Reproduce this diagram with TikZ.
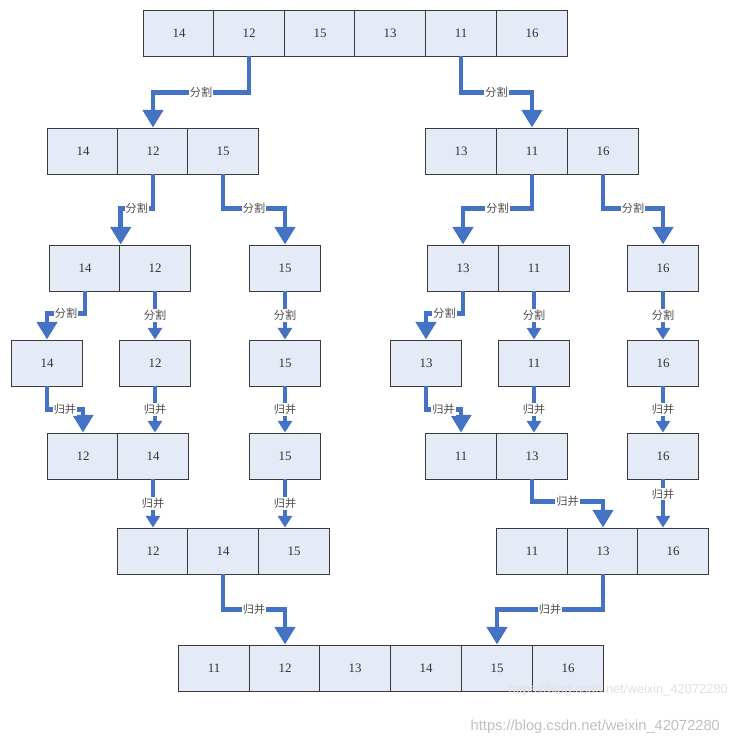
\documentclass[tikz,border=0pt]{standalone}
\usepackage{fontspec}
\setmainfont{Liberation Serif}
\setsansfont{Liberation Sans}
\newfontfamily\cjk{Noto Sans CJK SC}
\usepackage{xcolor}
\usepackage{tikz}
\usetikzlibrary{arrows.meta,calc}
\definecolor{flowblue}{HTML}{4472C4}
\definecolor{cellfill}{HTML}{E4EAF6}
\definecolor{cellline}{HTML}{3A3A3A}

\begin{document}
\begin{tikzpicture}[x=0.03cm,y=-0.03cm,
        cell/.style={rectangle,draw=cellline,fill=cellfill,thick,
          inner sep=0pt,minimum width=2.115cm,minimum height=1.38cm,
          font=\fontsize{11}{12}\selectfont,text=black!80},
        flow/.style={draw=flowblue,line width=3.8pt,
          -{Triangle[length=15pt,width=17pt]}},
        flowthin/.style={draw=flowblue,line width=3.4pt,
          -{Triangle[length=10pt,width=12pt]}},
        lbl/.style={fill=white,inner sep=1pt,text=black!70,
          font=\cjk\fontsize{9.5}{10}\selectfont}]
      \useasboundingbox (0,0) rectangle (732,746);
      % row 1
      \node[cell] (a1) at (179,33) {14};
      \node[cell] (a2) at (249,33) {12};
      \node[cell] (a3) at (320,33) {15};
      \node[cell] (a4) at (390,33) {13};
      \node[cell] (a5) at (461,33) {11};
      \node[cell] (a6) at (532,33) {16};
      % row 2
      \node[cell] (b1) at (83,151) {14};
      \node[cell] (b2) at (153,151) {12};
      \node[cell] (b3) at (223,151) {15};
      \node[cell] (b4) at (461,151) {13};
      \node[cell] (b5) at (532,151) {11};
      \node[cell] (b6) at (603,151) {16};
      % row 3
      \node[cell] (c1) at (85,268) {14};
      \node[cell] (c2) at (155,268) {12};
      \node[cell] (c3) at (285,268) {15};
      \node[cell] (c4) at (463,268) {13};
      \node[cell] (c5) at (534,268) {11};
      \node[cell] (c6) at (663,268) {16};
      % row 4
      \node[cell] (d1) at (47,363) {14};
      \node[cell] (d2) at (155,363) {12};
      \node[cell] (d3) at (285,363) {15};
      \node[cell] (d4) at (426,363) {13};
      \node[cell] (d5) at (534,363) {11};
      \node[cell] (d6) at (663,363) {16};
      % row 5
      \node[cell] (e1) at (83,456) {12};
      \node[cell] (e2) at (153,456) {14};
      \node[cell] (e3) at (285,456) {15};
      \node[cell] (e4) at (461,456) {11};
      \node[cell] (e5) at (532,456) {13};
      \node[cell] (e6) at (663,456) {16};
      % row 6
      \node[cell] (f1) at (153,551) {12};
      \node[cell] (f2) at (223,551) {14};
      \node[cell] (f3) at (294,551) {15};
      \node[cell] (f4) at (532,551) {11};
      \node[cell] (f5) at (603,551) {13};
      \node[cell] (f6) at (673,551) {16};
      % row 7
      \node[cell] (g1) at (214,668) {11};
      \node[cell] (g2) at (285,668) {12};
      \node[cell] (g3) at (355,668) {13};
      \node[cell] (g4) at (426,668) {14};
      \node[cell] (g5) at (497,668) {15};
      \node[cell] (g6) at (568,668) {16};

      % split
      \draw[flow] (a2.south) -- ++(0,36) -| node[lbl,pos=0.25] {分割} (b2.north);
      \draw[flow] (a5.south) -- ++(0,36) -| node[lbl,pos=0.25] {分割} (b5.north);
      \draw[flow] (b2.south) -- ++(0,34) -| node[lbl,pos=0.25] {分割} (c1.north east);
      \draw[flow] (b3.south) -- ++(0,34) -| node[lbl,pos=0.25] {分割} (c3.north);
      \draw[flow] (b5.south) -- ++(0,34) -| node[lbl,pos=0.25] {分割} (c4.north);
      \draw[flow] (b6.south) -- ++(0,34) -| node[lbl,pos=0.25] {分割} (c6.north);
      \draw[flow] (c1.south) -- ++(0,22) -| node[lbl,pos=0.25] {分割} (d1.north);
      \draw[flow] (c4.south) -- ++(0,22) -| node[lbl,pos=0.25] {分割} (d4.north);
      \draw[flowthin] (c2.south) -- node[lbl] {分割} (c2.south |- d2.north);
      \draw[flowthin] (c3.south) -- node[lbl] {分割} (c3.south |- d3.north);
      \draw[flowthin] (c5.south) -- node[lbl] {分割} (c5.south |- d5.north);
      \draw[flowthin] (c6.south) -- node[lbl] {分割} (c6.south |- d6.north);

      % merge
      \draw[flow] (d1.south) -- ++(0,23) -| node[lbl,pos=0.25] {归并} (e1.north);
      \draw[flow] (d4.south) -- ++(0,23) -| node[lbl,pos=0.25] {归并} (e4.north);
      \draw[flowthin] (d2.south) -- node[lbl] {归并} (d2.south |- e2.north);
      \draw[flowthin] (d3.south) -- node[lbl] {归并} (d3.south |- e3.north);
      \draw[flowthin] (d5.south) -- node[lbl] {归并} (d5.south |- e5.north);
      \draw[flowthin] (d6.south) -- node[lbl] {归并} (d6.south |- e6.north);
      \draw[flowthin] (e2.south) -- node[lbl] {归并} (e2.south |- f1.north);
      \draw[flowthin] (e3.south) -- node[lbl] {归并} (e3.south |- f3.north);
      \draw[flow] (e5.south) -- ++(0,22) -| node[lbl,pos=0.25] {归并} (f5.north);
      \draw[flowthin] (e6.south) -- node[lbl,pos=0.3] {归并} (e6.south |- f6.north);
      \draw[flow] (f2.south) -- ++(0,35) -| node[lbl,pos=0.25] {归并} (g2.north);
      \draw[flow] (f5.south) -- ++(0,35) -| node[lbl,pos=0.25] {归并} (g5.north);

      % watermarks
      \node[anchor=east,text=black!12,font=\sffamily\fontsize{11}{12}\selectfont] (wm1) at (732,690) {https://blog.csdn.net/weixin\_42072280};
      \node[anchor=east,text=black!25,font=\sffamily\fontsize{12.5}{14}\selectfont] (wm2) at (724,727) {https://blog.csdn.net/weixin\_42072280};
    \end{tikzpicture}
\end{document}
